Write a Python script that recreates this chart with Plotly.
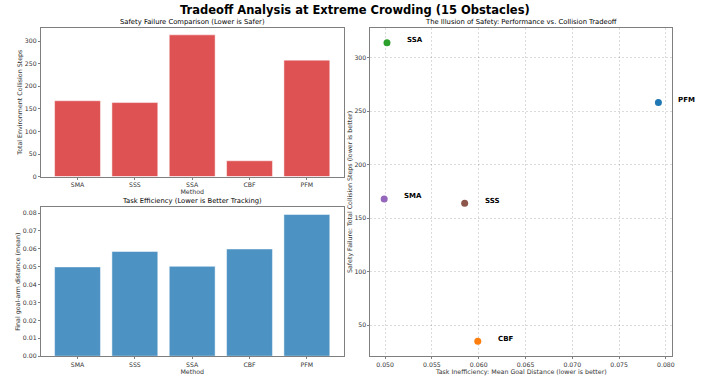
import plotly.graph_objects as go

# Methods and measured results
methods = ["SMA", "SSS", "SSA", "CBF", "PFM"]
collision_steps = [168, 164, 314, 35, 258]
goal_distance = [0.0499, 0.0585, 0.0502, 0.0599, 0.0792]
method_colors = ["#9467bd", "#8c564b", "#2ca02c", "#ff7f0e", "#1f77b4"]

FONT = "DejaVu Sans"
SPINE = "#7f7f7f"
TICK_FONT = dict(family=FONT, size=6.2, color="#333333")
TITLE_FONT = dict(family=FONT, size=6.3, color="#333333")

fig = go.Figure()

# Top-left: collisions per method
fig.add_trace(go.Bar(
    x=methods, y=collision_steps, xaxis="x", yaxis="y",
    marker=dict(color="rgba(214,39,40,0.8)", line=dict(color="rgba(255,255,255,0.6)", width=0.8)),
    width=0.8, showlegend=False,
))

# Bottom-left: goal distance per method
fig.add_trace(go.Bar(
    x=methods, y=goal_distance, xaxis="x2", yaxis="y2",
    marker=dict(color="rgba(31,119,180,0.8)", line=dict(color="rgba(255,255,255,0.6)", width=0.8)),
    width=0.8, showlegend=False,
))

# Right: tradeoff scatter
fig.add_trace(go.Scatter(
    x=goal_distance, y=collision_steps, xaxis="x3", yaxis="y3",
    mode="markers", marker=dict(color=method_colors, size=7),
    showlegend=False,
))

annotations = []
for m, gx, cy in zip(methods, goal_distance, collision_steps):
    annotations.append(dict(
        x=gx, y=cy, xref="x3", yref="y3", text=f"<b>{m}</b>",
        showarrow=False, xanchor="left", yanchor="middle",
        xshift=18, yshift=2.5, font=dict(family=FONT, size=7, color="black"),
    ))

# Titles
annotations.append(dict(
    x=0.5, y=1 - 10 / 378, xref="paper", yref="paper",
    text="<b>Tradeoff Analysis at Extreme Crowding (15 Obstacles)</b>",
    showarrow=False, xanchor="center", yanchor="middle",
    font=dict(family=FONT, size=11.5, color="black"),
))
for txt, xc, yc in [
    ("Safety Failure Comparison (Lower is Safer)", (41 + 345) / 2 / 713, 1 - 22 / 378),
    ("Task Efficiency (Lower is Better Tracking)", (41 + 345) / 2 / 713, 1 - 203 / 378),
    ("The Illusion of Safety: Performance vs. Collision Tradeoff", (372 + 675) / 2 / 713, 1 - 22 / 378),
]:
    annotations.append(dict(
        x=xc, y=yc, xref="paper", yref="paper", text=txt, showarrow=False,
        xanchor="center", yanchor="middle", font=dict(family=FONT, size=6.8, color="black"),
    ))


def axis(domain, **kw):
    base = dict(
        domain=domain, showline=True, linecolor=SPINE, linewidth=1, mirror=True,
        ticks="outside", ticklen=2, tickcolor=SPINE, tickfont=TICK_FONT,
        zeroline=False, showgrid=False,
    )
    base.update(kw)
    return base


xl = [41 / 713, 345 / 713]
xr = [372 / 713, 675 / 713]
y_top = [1 - 178 / 378, 1 - 28 / 378]
y_bot = [1 - 359 / 378, 1 - 209 / 378]
y_right = [1 - 359 / 378, 1 - 28 / 378]

GRID = dict(showgrid=True, gridcolor="rgba(0,0,0,0.14)", griddash="2px,2px", gridwidth=0.6)

fig.update_layout(
    width=713, height=378,
    margin=dict(l=0, r=0, t=0, b=0),
    paper_bgcolor="white", plot_bgcolor="white",
    font=dict(family=FONT),
    xaxis=axis(xl, anchor="y", range=[-0.64, 4.64],
               title=dict(text="Method", font=TITLE_FONT, standoff=2)),
    yaxis=axis(y_top, anchor="x", range=[0, 329.7], dtick=50,
               title=dict(text="Total Environment Collision Steps", font=TITLE_FONT, standoff=1)),
    xaxis2=axis(xl, anchor="y2", range=[-0.64, 4.64],
                title=dict(text="Method", font=TITLE_FONT, standoff=2)),
    yaxis2=axis(y_bot, anchor="x2", range=[0, 0.0832], dtick=0.01, tickformat=".2f",
                title=dict(text="Final goal-arm distance (mean)", font=TITLE_FONT, standoff=1)),
    xaxis3=axis(xr, anchor="y3", range=[0.04843, 0.08067], dtick=0.005, tickformat=".3f",
                title=dict(text="Task Inefficiency: Mean Goal Distance (lower is better)",
                           font=TITLE_FONT, standoff=2), **GRID),
    yaxis3=axis(y_right, anchor="x3", range=[21.05, 327.95], dtick=50,
                title=dict(text="Safety Failure: Total Collision Steps (lower is better)",
                           font=TITLE_FONT, standoff=1), **GRID),
    annotations=annotations,
)

fig.write_html("out.html")
